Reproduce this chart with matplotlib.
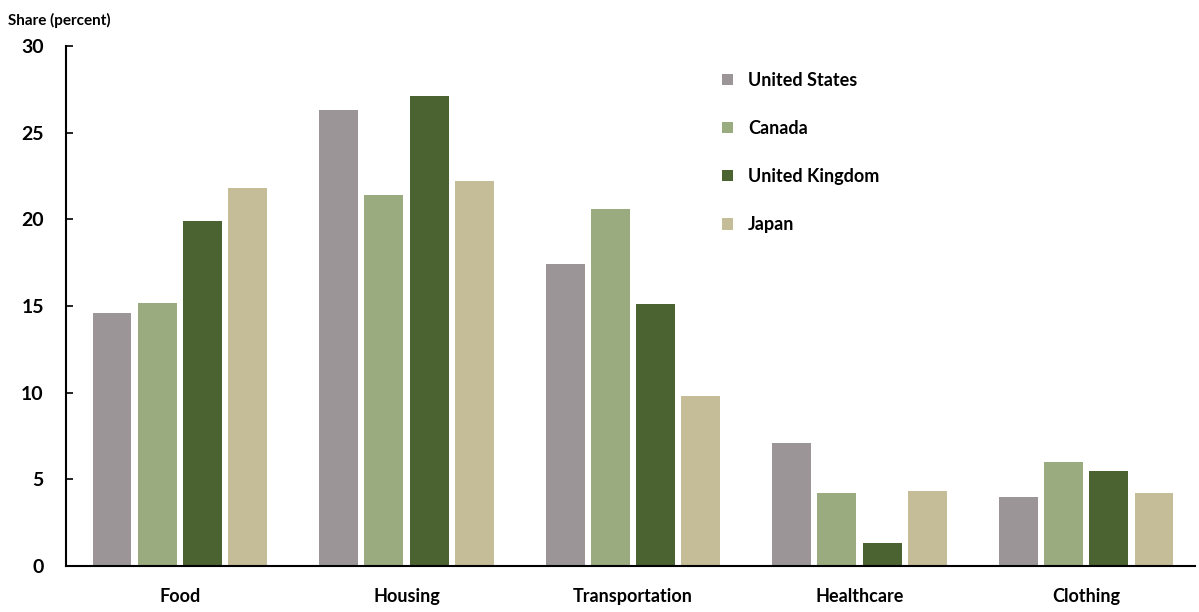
import matplotlib
matplotlib.use("Agg")
import matplotlib.pyplot as plt
import numpy as np
from matplotlib.patches import Patch

categories = ["Food", "Housing", "Transportation", "Healthcare", "Clothing"]
series_names = ["United States", "Canada", "United Kingdom", "Japan"]
us = [14.6, 26.3, 17.4, 7.1, 4.0]
canada = [15.2, 21.4, 20.6, 4.2, 6.0]
uk = [19.9, 27.1, 15.1, 1.3, 5.5]
japan = [21.8, 22.2, 9.8, 4.3, 4.2]
yticks = [0, 5, 10, 15, 20, 25, 30]

series = [us, canada, uk, japan]
colors = ["#9b9598", "#9bab80", "#4a6330", "#c5bd97"]

plt.rcParams['font.family'] = ['Lato', 'DejaVu Sans']
plt.rcParams['font.weight'] = 'bold'

fig = plt.figure(figsize=(11.99, 6.12), dpi=100)
ax = fig.add_axes([66/1199, 1-566/612, 1 - 66/1199 - 4/1199, (566-46)/612])

x = np.arange(len(categories))
step = 0.2
width = 0.172
for k, (vals, name, c) in enumerate(zip(series, series_names, colors)):
    ax.bar(x + (k - 1.5) * step, vals, width=width, color=c, label=name)

ax.set_xlim(-0.503, 4.481)
ax.set_ylim(0, 30)
ax.set_yticks(yticks)
ax.set_yticklabels([str(t) for t in yticks], fontsize=14, fontweight='bold')
ax.set_xticks(x)
ax.set_xticklabels(categories, fontsize=13, fontweight='bold')
ax.tick_params(axis='x', length=0, pad=16)
ax.tick_params(axis='y', direction='in', length=5, width=1.2, pad=16)
for side in ['top', 'right']:
    ax.spines[side].set_visible(False)
ax.spines['left'].set_linewidth(1.5)
ax.spines['bottom'].set_linewidth(1.5)

fig.text(8/1199, 1-20/612, "Share (percent)", fontsize=11, fontweight='bold',
         va='center', ha='left')

handles = [Patch(facecolor=c, edgecolor='none') for c in colors]
leg = fig.legend(handles, series_names, loc='upper left',
                 bbox_to_anchor=(722/1199, 1-72/612), frameon=False,
                 handlelength=0.6, handleheight=0.6,
                 handletextpad=0.85, labelspacing=1.72, borderpad=0,
                 borderaxespad=0, prop={'weight': 'bold', 'size': 13})

fig.savefig("out.png", dpi=100)
